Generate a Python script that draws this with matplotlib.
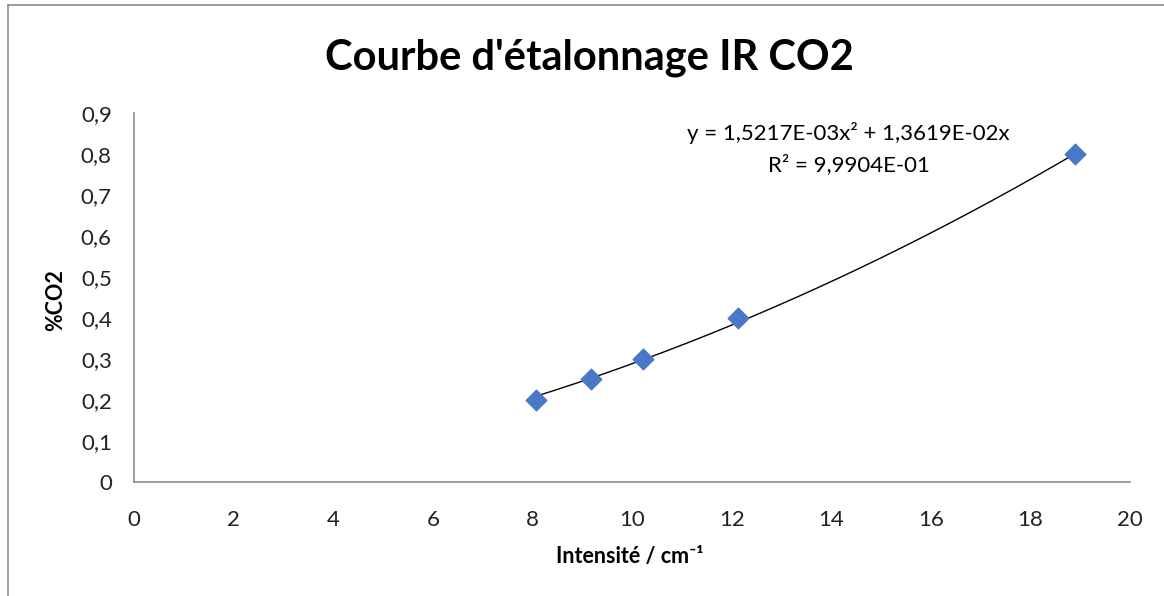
import matplotlib
matplotlib.use("Agg")
import matplotlib.pyplot as plt
import numpy as np
from matplotlib.lines import Line2D

plt.rcParams['font.family'] = ['Lato', 'DejaVu Sans']

# calibration points
intensite = [8.07, 9.18, 10.22, 12.13, 18.9]
pct_co2 = [0.2, 0.25, 0.3, 0.4, 0.8]

# polynomial trendline coefficients (order 2, through origin)
a2 = 1.5217e-03
a1 = 1.3619e-02
r2 = 9.9904e-01

xticks = [0, 2, 4, 6, 8, 10, 12, 14, 16, 18, 20]
yticks = [0, 0.1, 0.2, 0.3, 0.4, 0.5, 0.6, 0.7, 0.8, 0.9]

fig = plt.figure(figsize=(11.64, 5.96), dpi=100)
ax = fig.add_axes([0.1151, 0.1913, 0.8557, 0.6191])

# chart frame
fig.add_artist(Line2D([0.0065, 0.0065], [0, 0.992], color='#8c8c8c', lw=1.2))
fig.add_artist(Line2D([0.0065, 1], [0.992, 0.992], color='#8c8c8c', lw=1.2))

xs = np.linspace(min(intensite), max(intensite), 200)
ax.plot(xs, a2 * xs**2 + a1 * xs, color='black', lw=1, zorder=2)
ax.scatter(intensite, pct_co2, marker='D', s=110, color='#4A78C8', zorder=3)

ax.set_xlim(0, 20)
ax.set_ylim(0, 0.9)
ax.set_xticks(xticks)
ax.set_yticks(yticks)
ax.set_xticklabels([str(t) for t in xticks])
ax.set_yticklabels([('%g' % t).replace('.', ',') for t in yticks])
ax.tick_params(length=0, labelsize=16, colors='#222222')
ax.tick_params(axis='y', pad=16)
ax.tick_params(axis='x', pad=20)

for s in ['top', 'right']:
    ax.spines[s].set_visible(False)
for s in ['left', 'bottom']:
    ax.spines[s].set_color('#8c8c8c')
    ax.spines[s].set_linewidth(1.2)

fig.text(0.506, 0.903, "Courbe d'étalonnage IR CO2", ha='center', va='center',
         fontsize=30, fontweight='bold')
fig.text(0.541, 0.066, 'Intensité / cm⁻¹', ha='center', va='center',
         fontsize=15.5, fontweight='bold')
fig.text(0.048, 0.497, '%CO2', ha='center', va='center', rotation=90,
         fontsize=15.5, fontweight='bold')

eq = 'y = %sx² + %sx' % (('%.4E' % a2).replace('.', ','), ('%.4E' % a1).replace('.', ','))
ax.text(14.35, 0.852, eq, ha='center', va='center', fontsize=16)
ax.text(14.35, 0.775, 'R² = ' + ('%.4E' % r2).replace('.', ','), ha='center',
        va='center', fontsize=16)

fig.savefig('out.png', dpi=100)
